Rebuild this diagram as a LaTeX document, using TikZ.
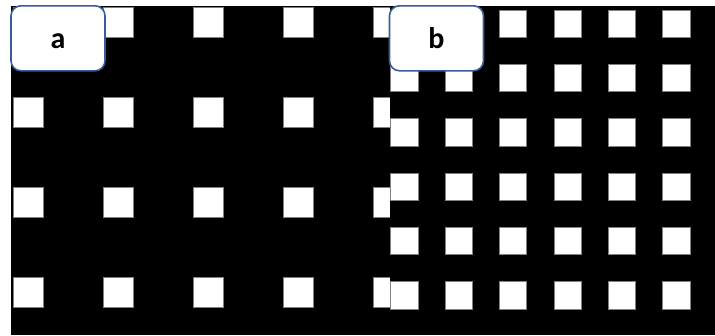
\documentclass[tikz,border=0pt]{standalone}
\usepackage{fontspec}
\setmainfont{Carlito}
\definecolor{boxblue}{RGB}{59,92,153}
\definecolor{sqedge}{RGB}{128,128,128}
\begin{document}
\begin{tikzpicture}[x=1pt,y=-1pt,
  cell/.style={fill=white,draw=sqedge,line width=0.7pt},
  panel/.style={fill=black,draw=none},
  labelbox/.style={draw=boxblue,line width=1.6pt,fill=white,rounded corners=10pt,
    minimum width=94pt,minimum height=65pt,inner sep=0pt,
    text height=20pt,text depth=0pt,
    font=\fontsize{30}{30}\selectfont\bfseries}]
\useasboundingbox (0,0) rectangle (715,335);
% panel a background
\path[panel] (11,6) rectangle (715,335);
% panel a squares
\foreach \i in {0,...,4}{
  \foreach \j in {0,...,3}{
    \path[cell] ({13.3+90*\i},{7.7+90*\j}) rectangle ++(30,30);
  }
}
% panel b background
\path[panel] (390,6) rectangle (715,335);
% panel b squares
\foreach \i in {0,...,5}{
  \foreach \j in {0,...,5}{
    \path[cell] ({390.7+54.4*\i},{10+54.33*\j}) rectangle ++(27.3,27.3);
  }
}
% labels
\node[labelbox] (la) at (58,38.3) {a};
\node[labelbox] (lb) at (436.5,38.3) {b};
\end{tikzpicture}
\end{document}
